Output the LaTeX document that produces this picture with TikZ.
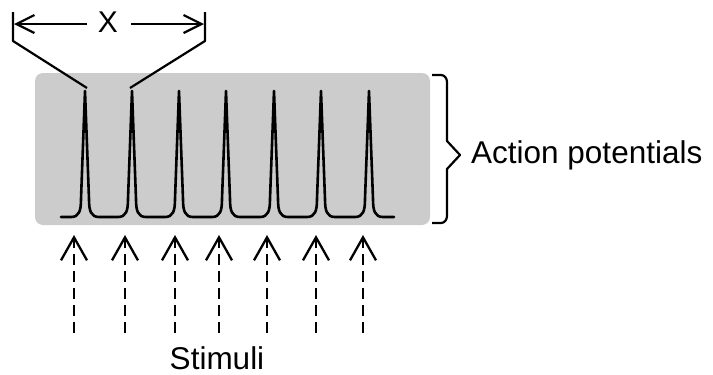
\documentclass[tikz,border=0pt]{standalone}
\usepackage{fontspec}
\setmainfont{Liberation Sans}
\usetikzlibrary{arrows.meta}
\begin{document}
\begin{tikzpicture}[x=1pt,y=-1pt,
  stroke/.style={line width=2.2pt, black, line join=round},
  spike/.style={line width=2.6pt, black, line join=round, line cap=round},
  stim/.style={line width=2.3pt, dash pattern=on 11pt off 6pt,
    -{Straight Barb[length=23pt,width=26pt]}},
  span/.style={line width=2.2pt, -{Straight Barb[length=18pt,width=18pt]}},
  lbl/.style={font=\fontsize{31.5}{36}\selectfont, inner sep=0pt},
  panel/.style={fill=gray!40, rounded corners=8pt, inner sep=0pt,
    minimum width=395pt, minimum height=152pt},
]
\useasboundingbox (0,0) rectangle (713,375);

% grey recording panel
\node[panel] (panel) at (232.5,149) {};

% train of action potentials
\draw[spike] (61,217)
  foreach \p in {85,132,179,226,274,321,369} {
    -- ({\p-14},217) .. controls ({\p-6},217) and ({\p-4},211) .. ({\p-4},199)
    -- (\p,91)
    -- ({\p+4},199) .. controls ({\p+4},211) and ({\p+6},217) .. ({\p+14},217)
  } -- (394,217);

% interval bracket X
\coordinate (xl0) at (13,12);
\coordinate (xl1) at (13,41);
\coordinate (xl2) at (87,88);
\coordinate (xr0) at (205,12);
\coordinate (xr1) at (205,41);
\coordinate (xr2) at (130,88);
\draw[stroke] (xl0) -- (xl1) -- (xl2);
\draw[stroke] (xr0) -- (xr1) -- (xr2);
\node[lbl, font=\fontsize{30}{34}\selectfont] (xlabel) at (108,22) {X};
\coordinate (al) at (87,24);
\coordinate (alt) at (14,24);
\coordinate (ar) at (131,24);
\coordinate (art) at (204,24);
\draw[span] (al) -- (alt);
\draw[span] (ar) -- (art);

% brace for the action potentials
\draw[stroke] (432,75) -- (441,75) to[out=0,in=90] (447,82) -- (447,141)
  -- (460,155) -- (447,169) -- (447,216) to[out=-90,in=0] (441,223) -- (432,223);
\node[lbl, anchor=base west] (aplabel) at (471,163) {Action potentials};

% stimuli
\foreach \x [count=\k] in {74,125,175,219,267,316,363} {
  \coordinate (s\k) at (\x,333);
  \coordinate (t\k) at (\x,235);
  \draw[stim] (s\k) -- (t\k);
}
\node[lbl, anchor=base] (stimlabel) at (217,369) {Stimuli};
\end{tikzpicture}
\end{document}
